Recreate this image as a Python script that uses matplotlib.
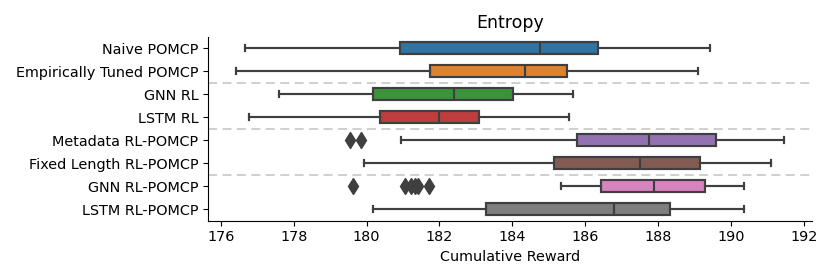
import matplotlib
matplotlib.use("Agg")
import matplotlib.pyplot as plt

labels = ["Naive POMCP", "Empirically Tuned POMCP", "GNN RL", "LSTM RL",
          "Metadata RL-POMCP", "Fixed Length RL-POMCP", "GNN RL-POMCP", "LSTM RL-POMCP"]
whislo = [176.67, 176.41, 177.60, 176.78, 180.94, 179.94, 185.32, 180.19]
q1     = [180.92, 181.74, 180.19, 180.38, 185.77, 185.14, 186.44, 183.27]
med    = [184.76, 184.35, 182.41, 181.98, 187.75, 187.51, 187.87, 186.80]
q3     = [186.34, 185.50, 184.03, 183.09, 189.59, 189.15, 189.29, 188.33]
whishi = [189.41, 189.09, 185.66, 185.56, 191.45, 191.09, 190.35, 190.34]
fliers = [[], [], [], [], [179.55, 179.85], [],
          [179.64, 181.05, 181.22, 181.32, 181.42, 181.70], []]
colors = ["#3274a1", "#e1812c", "#3a923a", "#c03d3e",
          "#9372b2", "#845b53", "#d684bd", "#7f7f7f"]
separators = [1.5, 3.5, 5.5]

stats = []
for i, lab in enumerate(labels):
    stats.append(dict(label=lab, whislo=whislo[i], q1=q1[i], med=med[i],
                      q3=q3[i], whishi=whishi[i], fliers=fliers[i]))

fig = plt.figure(figsize=(8.3, 2.8), dpi=100)
ax = fig.add_axes([0.251, 0.212, 0.727, 0.657])

edge = "#3f3f3f"
bp = ax.bxp(stats, positions=range(len(labels)), vert=False, widths=0.52,
            patch_artist=True,
            boxprops=dict(edgecolor=edge, linewidth=1.55),
            medianprops=dict(color=edge, linewidth=1.55),
            whiskerprops=dict(color=edge, linewidth=1.55),
            capprops=dict(color=edge, linewidth=1.55),
            flierprops=dict(marker="d", markerfacecolor=edge, markeredgecolor=edge,
                            markersize=8, linestyle="none"))
for patch, c in zip(bp["boxes"], colors):
    patch.set_facecolor(c)

for s in separators:
    ax.axhline(s, color="#cccccc", linestyle=(0, (5, 3)), linewidth=1.3, zorder=0)

ax.set_ylim(len(labels) - 0.5, -0.5)
ax.set_xlim(175.66, 192.21)
ax.set_xticks(range(176, 193, 2))
ax.set_yticks(range(len(labels)))
ax.set_yticklabels(labels, fontsize=10.4)
ax.tick_params(axis="x", labelsize=10.4)
ax.set_xlabel("Cumulative Reward", fontsize=10.4)
ax.set_title("Entropy", fontsize=12.5)
ax.spines["top"].set_visible(False)
ax.spines["right"].set_visible(False)

fig.savefig("out.png", dpi=100)
